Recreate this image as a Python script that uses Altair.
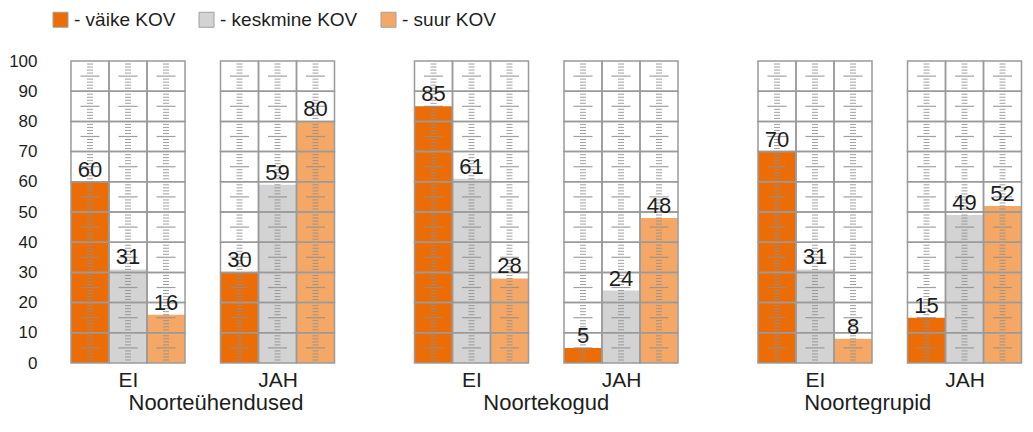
import altair as alt
import pandas as pd

# ---- data ----
groups = ["Noorteühendused", "Noortekogud", "Noortegrupid"]
answers = ["EI", "JAH"]
sizes = ["väike KOV", "keskmine KOV", "suur KOV"]
noorteuhendused_ei = [60, 31, 16]
noorteuhendused_jah = [30, 59, 80]
noortekogud_ei = [85, 61, 28]
noortekogud_jah = [5, 24, 48]
noortegrupid_ei = [70, 31, 8]
noortegrupid_jah = [15, 49, 52]
y_ticks = [0, 10, 20, 30, 40, 50, 60, 70, 80, 90, 100]

series = {
    ("Noorteühendused", "EI"): noorteuhendused_ei,
    ("Noorteühendused", "JAH"): noorteuhendused_jah,
    ("Noortekogud", "EI"): noortekogud_ei,
    ("Noortekogud", "JAH"): noortekogud_jah,
    ("Noortegrupid", "EI"): noortegrupid_ei,
    ("Noortegrupid", "JAH"): noortegrupid_jah,
}

colors = ["#EC6C06", "#D3D3D3", "#F5A865"]
FONT = "Liberation Sans, Arial"
W, H = 114, 302
TEXT = "#1e1e1e"

# decoration tables (cells and ruler ticks)
cells = pd.DataFrame([{"size": s, "lo": v, "hi": v + 10} for s in sizes for v in y_ticks[:-1]])
ruler = pd.DataFrame([{"size": s, "v": k, "long": (k % 10 == 5)}
                      for s in sizes for k in range(1, 100) if k % 10 != 0])

yscale = alt.Scale(domain=[0, 100], nice=False, zero=True)
xscale = alt.Scale(domain=sizes, paddingInner=0, paddingOuter=0)


def panel(group, answer, show_y):
    df = pd.DataFrame({"size": sizes, "value": series[(group, answer)]})
    yaxis = alt.Axis(values=y_ticks, labelFontSize=17, labelFont=FONT, labelColor=TEXT,
                     labelOverlap=False, ticks=False, domain=False, grid=False,
                     labelPadding=34, title=None) if show_y else None
    xax = alt.Axis(labels=False, ticks=False, domain=False, grid=False, title=answer,
                   titleFontSize=21, titleFont=FONT, titleFontWeight="normal", titleColor=TEXT,
                   titlePadding=6)
    xs = alt.X("size:N", scale=xscale, sort=sizes, axis=xax)

    def ys(field):
        return alt.Y(field, scale=yscale, axis=yaxis)

    bars = alt.Chart(df).mark_bar(width={"band": 1}).encode(
        x=xs,
        y=ys("value:Q"),
        color=alt.Color("size:N", sort=sizes, scale=alt.Scale(domain=sizes, range=colors),
                        legend=alt.Legend(title=None, orient="none", direction="horizontal",
                                          legendX=-20, legendY=-51, labelFontSize=19, labelFont=FONT,
                                          labelColor=TEXT, symbolType="square", symbolSize=225,
                                          symbolStrokeColor="#a0a0a0", symbolStrokeWidth=1,
                                          columnPadding=21, labelOffset=4, labelLimit=0,
                                          labelExpr="'- ' + datum.label")),
    )
    short = alt.Chart(ruler).transform_filter("!datum.long").mark_tick(
        color="#8f8f8f", thickness=1, size=6, opacity=0.85).encode(
        x=xs, y=ys("v:Q"))
    long_ = alt.Chart(ruler).transform_filter("datum.long").mark_tick(
        color="#8f8f8f", thickness=1.2, size=19, opacity=0.85).encode(
        x=xs, y=ys("v:Q"))
    grid = alt.Chart(cells).mark_rect(filled=False, stroke="#9a9a9a", strokeWidth=1.5).encode(
        x=xs, y=ys("lo:Q"), y2="hi:Q")
    labels = alt.Chart(df).mark_text(font=FONT, fontSize=22, color=TEXT, baseline="alphabetic",
                                     dy=-5).encode(
        x=xs, y=ys("value:Q"), text="value:Q")
    return alt.layer(bars, short, long_, grid, labels).properties(width=W, height=H)


title_dx = [44, 0, -22]
group_charts = []
for i, g in enumerate(groups):
    p1 = panel(g, "EI", i == 0)
    p2 = panel(g, "JAH", False)
    group_charts.append(
        alt.hconcat(p1, p2, spacing=33.5).properties(
            title=alt.TitleParams(g, orient="bottom", anchor="middle", fontSize=22, font=FONT,
                                  fontWeight="normal", color=TEXT, offset=3, dx=title_dx[i]))
    )

chart = alt.hconcat(*group_charts, spacing=77.5).properties(
    padding={"top": 2, "left": 0, "right": 0, "bottom": 0}
).configure_view(stroke=None).resolve_scale(color="shared")

chart.save("out.html", embed_options={"renderer": "svg", "actions": False})
